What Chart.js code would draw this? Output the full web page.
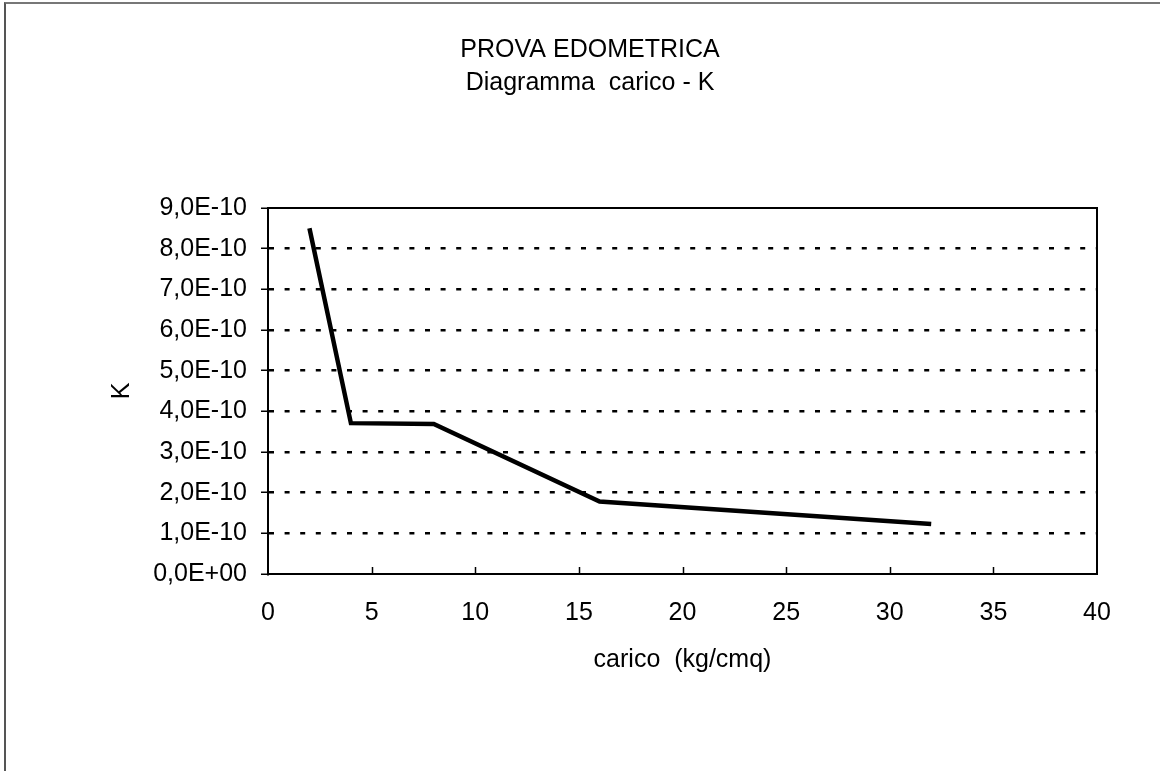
<!DOCTYPE html>
<html>
<head>
<meta charset="utf-8">
<title>Prova edometrica</title>
<script src="https://cdn.jsdelivr.net/npm/chart.js@4.4.1/dist/chart.umd.min.js"></script>
<style>
  html, body { margin: 0; padding: 0; background: #fff; }
  #wrap { position: relative; width: 1160px; height: 771px; overflow: hidden; }
  #frame { position: absolute; left: 4px; top: 2px; right: -10px; bottom: -10px;
           border-left: 2px solid #555; border-top: 2px solid #777; }
  #graph { position: absolute; left: 0; top: 0; }
</style>
</head>
<body>
<div id="wrap">
  <div id="frame"></div>
  <canvas id="graph" width="1160" height="771"></canvas>
</div>
<script>
//--- dati
var carico = [2, 4, 8, 16, 32];                                  // kg/cmq
var kValues = [8.5e-10, 3.71e-10, 3.69e-10, 1.78e-10, 1.23e-10];  // K
var xTicks = [0, 5, 10, 15, 20, 25, 30, 35, 40];
var yTicks = [0, 1e-10, 2e-10, 3e-10, 4e-10, 5e-10, 6e-10, 7e-10, 8e-10, 9e-10];
var titleLines = ['PROVA EDOMETRICA', 'Diagramma  carico - K'];
var xTitle = 'carico  (kg/cmq)';
var yTitle = 'K';

var FONT = "'Liberation Sans', Arial, sans-serif";

// 9e-10 -> "9,0E-10"
function fmtExp(v) {
    if (v === 0) return '0,0E+00';
    var e = Math.floor(Math.log10(Math.abs(v)) + 1e-9);
    var m = v / Math.pow(10, e);
    var es = (e < 0 ? '-' : '+') + String(Math.abs(e)).padStart(2, '0');
    return m.toFixed(1).replace('.', ',') + 'E' + es;
}

// bordo superiore/destro dell'area e tacche interne sull'asse x
var plotFrame = {
    id: 'plotFrame',
    beforeDatasetsDraw: function (chart) {
        var a = chart.chartArea, ctx = chart.ctx, xs = chart.scales.x;
        ctx.save();
        ctx.strokeStyle = '#000';
        ctx.lineWidth = 2;
        ctx.beginPath();
        ctx.moveTo(a.left, a.top);
        ctx.lineTo(a.right, a.top);
        ctx.lineTo(a.right, a.bottom);
        ctx.stroke();
        ctx.lineWidth = 1.5;
        ctx.beginPath();
        for (var i = 1; i < xTicks.length - 1; i++) {
            var px = Math.round(xs.getPixelForValue(xTicks[i])) + 0.5;
            ctx.moveTo(px, a.bottom);
            ctx.lineTo(px, a.bottom - 7);
        }
        ctx.stroke();
        ctx.restore();
    }
};

var points = carico.map(function (c, i) { return { x: c, y: kValues[i] }; });

new Chart(document.getElementById('graph'), {
    type: 'line',
    data: {
        datasets: [{
            label: 'K',
            data: points,
            borderColor: '#000',
            borderWidth: 4.5,
            pointRadius: 0,
            tension: 0,
            fill: false,
            yAxisID: 'y'
        }]
    },
    options: {
        responsive: false,
        animation: false,
        devicePixelRatio: 1,
        layout: { padding: { left: 20, right: 0, top: 0, bottom: 0 } },
        plugins: {
            legend: { display: false },
            tooltip: { enabled: false },
            title: {
                display: true,
                text: titleLines,
                color: '#000',
                font: { family: FONT, size: 25, weight: 'normal', lineHeight: 1.32 },
                padding: { top: 33.5, bottom: 108.5 }
            }
        },
        scales: {
            x: {
                type: 'linear',
                min: 0,
                max: 40,
                afterBuildTicks: function (s) { s.ticks = xTicks.map(function (v) { return { value: v }; }); },
                afterFit: function (s) { s.height = 197; },
                grid: { drawOnChartArea: false, drawTicks: false },
                border: { color: '#000', width: 2 },
                ticks: {
                    color: '#000',
                    padding: 24,
                    maxRotation: 0,
                    font: { family: FONT, size: 25, lineHeight: 1.2 }
                },
                title: {
                    display: true,
                    text: xTitle,
                    color: '#000',
                    font: { family: FONT, size: 25, lineHeight: 1.2 },
                    padding: { top: 0, bottom: 96 }
                }
            },
            y: {
                type: 'linear',
                position: 'left',
                min: 0,
                max: 9e-10,
                afterBuildTicks: function (s) { s.ticks = yTicks.map(function (v) { return { value: v }; }); },
                afterFit: function (s) { s.width = 248; },
                grid: {
                    color: function (c) {
                        return (c.index === 0 || c.index === yTicks.length - 1) ? 'rgba(0,0,0,0)' : '#000';
                    },
                    lineWidth: 2.5,
                    tickLength: 7,
                    tickColor: '#000',
                    tickWidth: 1.5,
                    tickBorderDash: []
                },
                border: { color: '#000', width: 2, dash: [5, 10.6] },
                ticks: {
                    color: '#000',
                    padding: 14,
                    font: { family: FONT, size: 25, lineHeight: 1.2 },
                    callback: function (v) { return fmtExp(v); }
                },
                title: {
                    display: true,
                    text: yTitle,
                    color: '#000',
                    font: { family: FONT, size: 25, lineHeight: 1.2 },
                    padding: { top: 87, bottom: 0 }
                }
            },
            // spazio vuoto a destra dell'area del grafico
            yRight: {
                type: 'linear',
                position: 'right',
                min: 0,
                max: 1,
                afterFit: function (s) { s.width = 63; },
                grid: { display: false, drawOnChartArea: false },
                border: { display: false },
                ticks: { display: false }
            }
        }
    },
    plugins: [plotFrame]
});
</script>
</body>
</html>
